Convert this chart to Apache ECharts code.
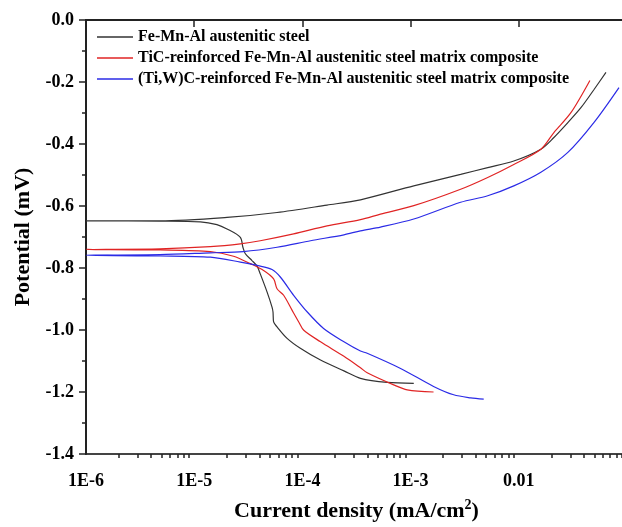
<!DOCTYPE html>
<html>
<head>
<meta charset="utf-8">
<script src="https://cdn.jsdelivr.net/npm/echarts@6/dist/echarts.min.js"></script>
<style>
  html, body { margin: 0; padding: 0; background: #fff; overflow: hidden; }
  /* the frame's right edge sits just past the picture, so the canvas is a little wider than the window */
  #chart { width: 632px; height: 527px; }
</style>
</head>
<body>
<div id="chart"></div>
<script>
// Tafel curves: current density (mA/cm2) vs potential (mV).
const seriesNames = [
  'Fe-Mn-Al austenitic steel',
  'TiC-reinforced Fe-Mn-Al austenitic steel matrix composite',
  '(Ti,W)C-reinforced Fe-Mn-Al austenitic steel matrix composite'
];

// Fe-Mn-Al steel
const feCathodicI = [1e-6, 4.84e-6, 1.14e-5, 1.62e-5, 2.01e-5, 2.67e-5, 2.82e-5, 2.97e-5, 3.42e-5, 3.81e-5, 4.08e-5, 4.71e-5, 5.24e-5, 5.35e-5, 5.42e-5, 5.83e-5, 7.22e-5, 9.57e-5, 1.47e-4, 2.42e-4, 3.44e-4, 6.08e-4, 1.07e-3];
const feCathodicE = [-0.648, -0.649, -0.651, -0.660, -0.674, -0.701, -0.733, -0.754, -0.776, -0.794, -0.819, -0.877, -0.926, -0.942, -0.974, -0.990, -1.027, -1.059, -1.097, -1.132, -1.156, -1.169, -1.172];
const feAnodicI = [1e-6, 4.84e-6, 2.01e-5, 5.83e-5, 1.69e-4, 3.44e-4, 1.07e-3, 2.90e-3, 5.16e-3, 8.99e-3, 1.60e-2, 2.11e-2, 2.84e-2, 3.75e-2, 4.94e-2, 6.39e-2];
const feAnodicE = [-0.648, -0.648, -0.637, -0.621, -0.597, -0.580, -0.535, -0.498, -0.476, -0.455, -0.417, -0.379, -0.331, -0.283, -0.225, -0.169];

// TiC composite
const ticCathodicI = [1e-6, 4.84e-6, 1.41e-5, 2.31e-5, 3.30e-5, 4.38e-5, 5.42e-5, 5.83e-5, 6.71e-5, 8.02e-5, 9.25e-5, 1.03e-4, 1.47e-4, 2.42e-4, 3.44e-4, 3.97e-4, 6.97e-4, 9.31e-4, 1.63e-3];
const ticCathodicE = [-0.740, -0.742, -0.747, -0.762, -0.786, -0.808, -0.835, -0.867, -0.888, -0.936, -0.974, -1.001, -1.038, -1.085, -1.122, -1.138, -1.177, -1.193, -1.200];
const ticAnodicI = [1e-6, 4.84e-6, 1.41e-5, 2.67e-5, 4.08e-5, 8.3e-5, 1.69e-4, 3.44e-4, 5.27e-4, 1.07e-3, 2.90e-3, 5.16e-3, 8.99e-3, 1.60e-2, 2.11e-2, 3.03e-2, 4.54e-2];
const ticAnodicE = [-0.740, -0.738, -0.731, -0.722, -0.712, -0.690, -0.664, -0.644, -0.626, -0.599, -0.546, -0.508, -0.466, -0.417, -0.363, -0.299, -0.195];

// (Ti,W)C composite
const tiwCathodicI = [1e-6, 4.84e-6, 1.41e-5, 2.67e-5, 4.08e-5, 5.24e-5, 6.25e-5, 8.3e-5, 1.11e-4, 1.57e-4, 2.42e-4, 3.44e-4, 3.97e-4, 8.08e-4, 1.63e-3, 2.50e-3, 3.59e-3, 4.74e-3];
const tiwCathodicE = [-0.759, -0.761, -0.765, -0.781, -0.794, -0.805, -0.829, -0.888, -0.942, -0.995, -1.038, -1.068, -1.075, -1.124, -1.182, -1.209, -1.219, -1.223];
const tiwAnodicI = [1e-6, 4.84e-6, 1.41e-5, 2.84e-5, 5.83e-5, 1.19e-4, 2.42e-4, 3.44e-4, 5.27e-4, 1.07e-3, 2.90e-3, 5.16e-3, 8.99e-3, 1.60e-2, 2.84e-2, 4.94e-2, 8.43e-2];
const tiwAnodicE = [-0.759, -0.757, -0.751, -0.747, -0.733, -0.712, -0.693, -0.680, -0.668, -0.642, -0.588, -0.567, -0.535, -0.491, -0.427, -0.331, -0.218];

const xMajorLabels = { '-6': '1E-6', '-5': '1E-5', '-4': '1E-4', '-3': '1E-3', '-2': '0.01', '-1': '' };
const xMinorTicks = [];
for (let d = -6; d < -1; d++) {
  for (let m = 2; m <= 9; m++) xMinorTicks.push(m * Math.pow(10, d));
}

// cathodic branch walked back to the low-current end, then the anodic branch out again
function curve(cI, cE, aI, aE) {
  const out = [];
  for (let k = cI.length - 1; k >= 0; k--) out.push([cI[k], cE[k]]);
  for (let k = 1; k < aI.length; k++) out.push([aI[k], aE[k]]);
  return out;
}

const font = '"Liberation Serif", "DejaVu Serif", serif';
const colors = ['#333333', '#e02424', '#2b2be6'];
const curves = [
  curve(feCathodicI, feCathodicE, feAnodicI, feAnodicE),
  curve(ticCathodicI, ticCathodicE, ticAnodicI, ticAnodicE),
  curve(tiwCathodicI, tiwCathodicE, tiwAnodicI, tiwAnodicE)
];

const chart = echarts.init(document.getElementById('chart'), null, { renderer: 'canvas' });
chart.setOption({
  animation: false,
  backgroundColor: '#fff',
  grid: {
    left: 86, top: 20, right: 5, bottom: 71,
    show: true, borderColor: '#444', borderWidth: 2, backgroundColor: 'transparent'
  },
  legend: {
    orient: 'vertical', left: 92, top: 24,
    icon: 'rect', itemWidth: 36, itemHeight: 1.5, itemGap: 5,
    textStyle: { fontFamily: font, fontWeight: 'bold', fontSize: 16, color: '#000' },
    data: seriesNames
  },
  xAxis: [{
    type: 'log', logBase: 10, min: 1e-6, max: 0.1,
    name: 'Current density (mA/cm{sup|2})',
    nameLocation: 'middle', nameGap: 44,
    nameTextStyle: {
      fontFamily: font, fontWeight: 'bold', fontSize: 22, color: '#000',
      rich: { sup: { fontFamily: font, fontWeight: 'bold', fontSize: 14, color: '#000', verticalAlign: 'top', padding: [0, 0, 12, 0] } }
    },
    axisLine: { show: true, lineStyle: { color: '#222', width: 2 } },
    axisTick: { show: true, inside: false, length: 7, lineStyle: { color: '#222', width: 1.5 } },
    axisLabel: {
      margin: 18, fontFamily: font, fontWeight: 'bold', fontSize: 18, color: '#000',
      formatter: v => xMajorLabels[String(Math.round(Math.log10(v)))] ?? ''
    },
    splitLine: { show: false }
  }, {
    type: 'log', logBase: 10, min: 1e-6, max: 0.1, position: 'bottom',
    axisLine: { show: false },
    axisTick: { show: true, length: 4, customValues: xMinorTicks, lineStyle: { color: '#222', width: 1.5 } },
    axisLabel: { show: false },
    splitLine: { show: false }
  }],
  yAxis: {
    type: 'value', min: -1.4, max: 0, interval: 0.2,
    name: 'Potential (mV)',
    nameLocation: 'middle', nameGap: 52,
    nameTextStyle: { fontFamily: font, fontWeight: 'bold', fontSize: 22, color: '#000' },
    axisLine: { show: true, lineStyle: { color: '#222', width: 2 } },
    axisTick: { show: true, length: 7, lineStyle: { color: '#222', width: 1.5 } },
    minorTick: { show: true, splitNumber: 2, length: 4, lineStyle: { color: '#222', width: 1.5 } },
    axisLabel: {
      margin: 12, fontFamily: font, fontWeight: 'bold', fontSize: 18, color: '#000',
      formatter: v => v.toFixed(1)
    },
    splitLine: { show: false }
  },
  series: curves.map((data, k) => ({
    name: seriesNames[k],
    type: 'line',
    data: data,
    showSymbol: false,
    symbol: 'none',
    smooth: 0.3,
    lineStyle: { color: colors[k], width: 1.2 },
    itemStyle: { color: colors[k] }
  }))
});
</script>
</body>
</html>
